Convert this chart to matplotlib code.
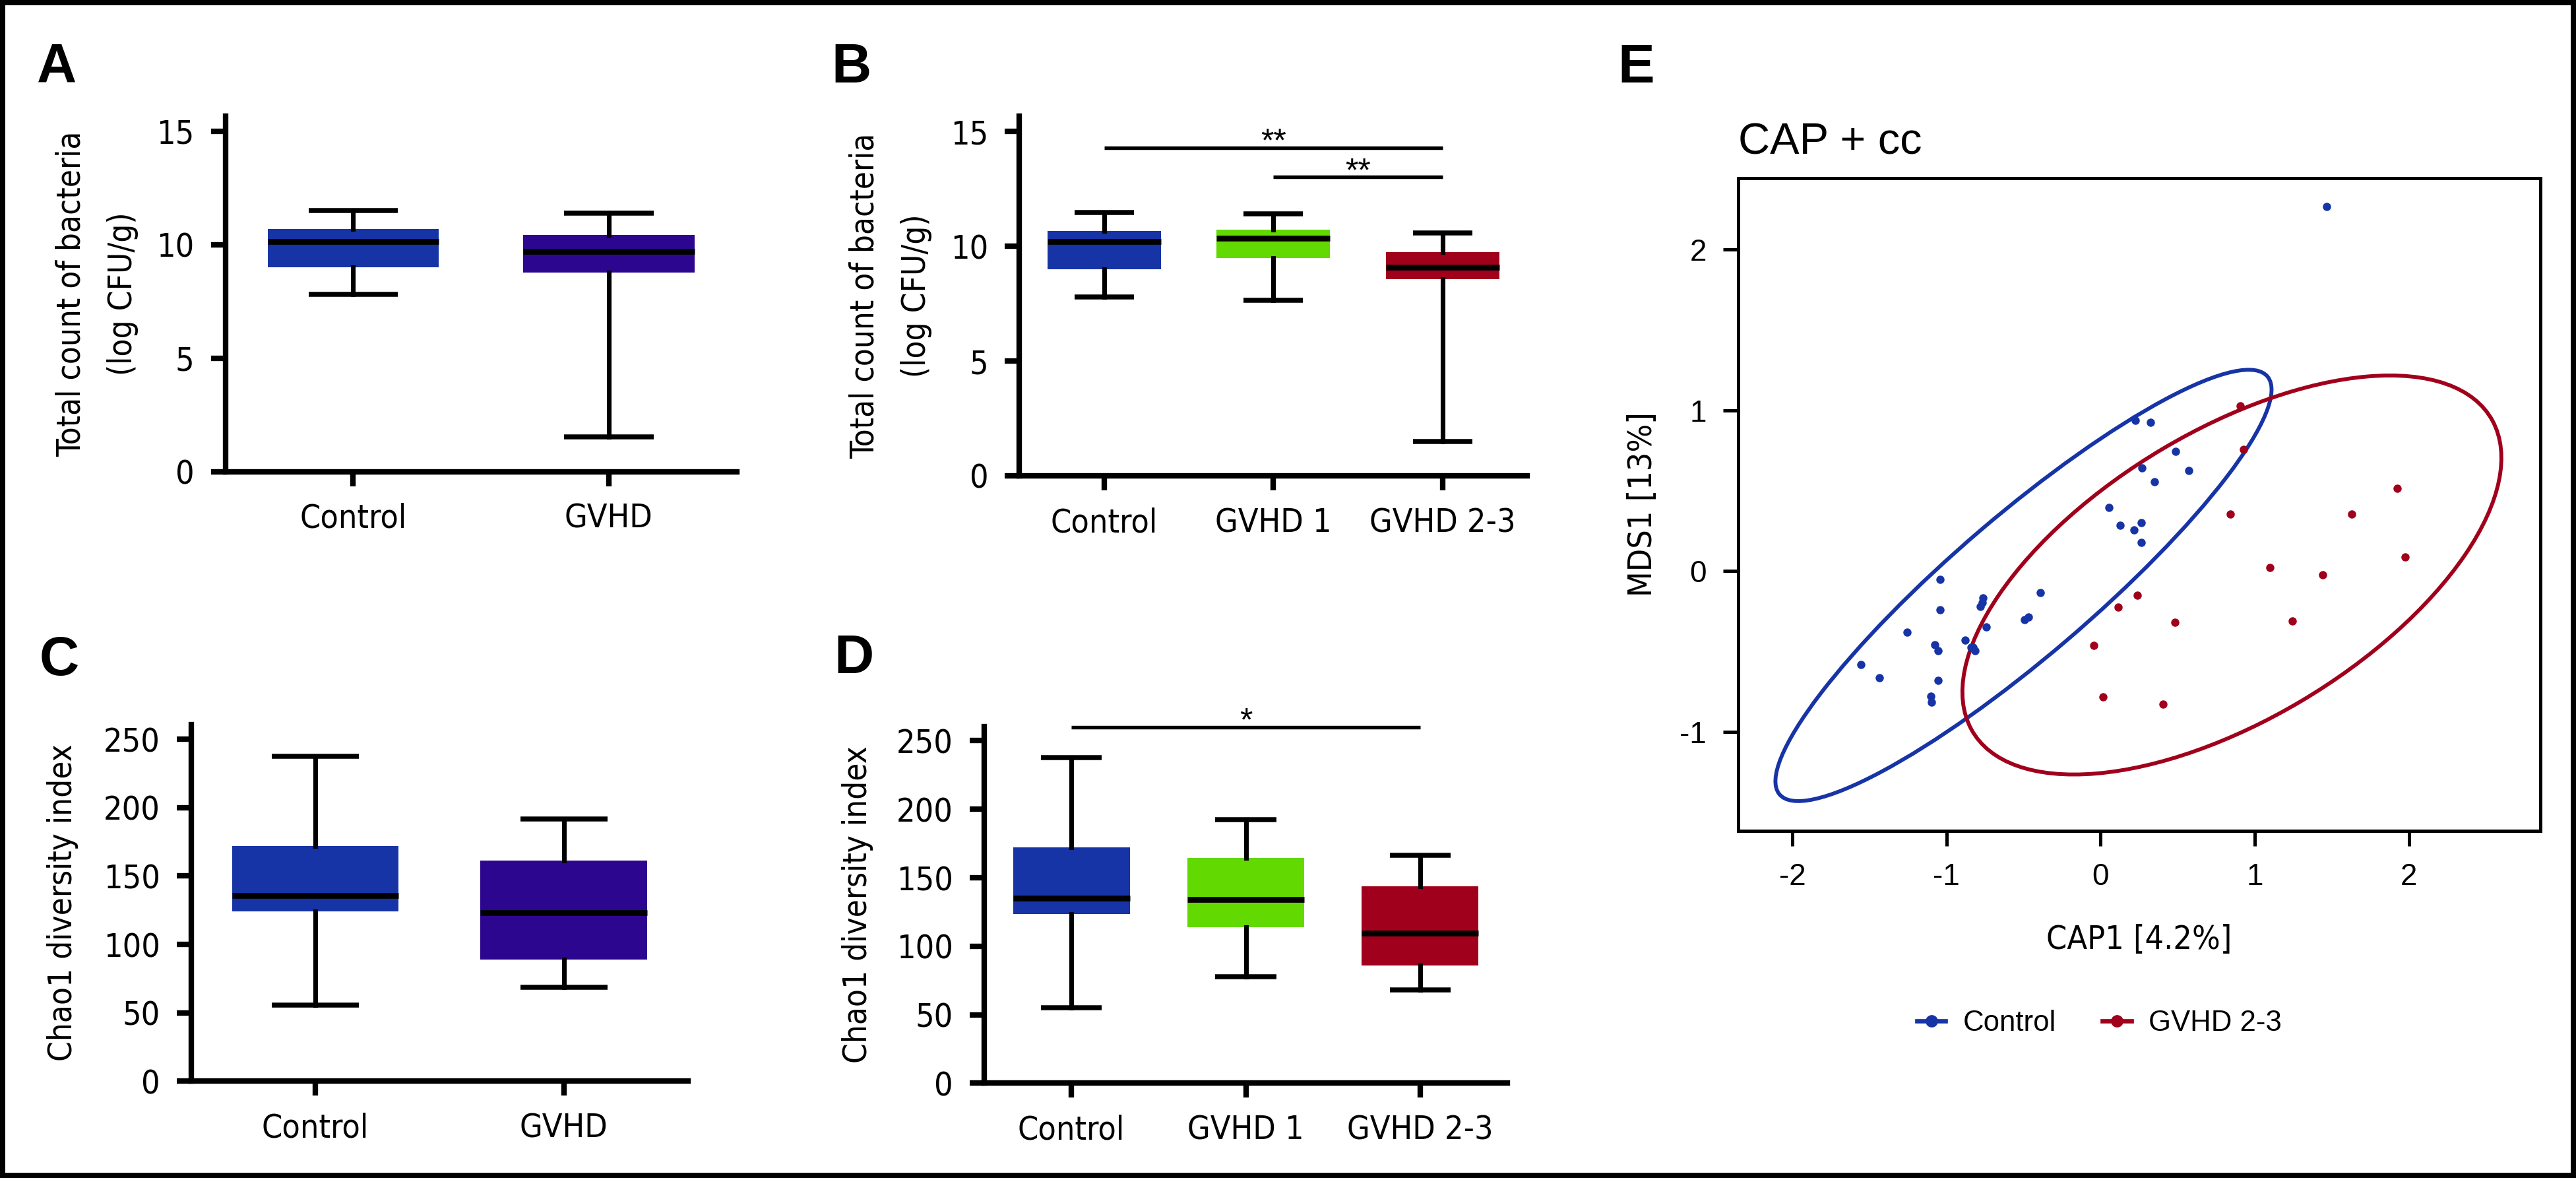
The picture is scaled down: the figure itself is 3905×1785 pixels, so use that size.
import numpy as np
import matplotlib.pyplot as plt
from matplotlib import font_manager
from matplotlib.patches import Ellipse, Rectangle
from matplotlib.lines import Line2D

# the figure uses a condensed face for most text; take DejaVu Sans Condensed if present
has_cond = any(f.name == 'DejaVu Sans' and f.stretch == 'condensed'
               for f in font_manager.fontManager.ttflist)
if has_cond:
    plt.rcParams['font.family'] = ['DejaVu Sans']
    plt.rcParams['font.stretch'] = 'condensed'
else:
    plt.rcParams['font.family'] = ['Liberation Sans', 'DejaVu Sans']
plt.rcParams['axes.unicode_minus'] = False
plain = 'Liberation Sans'

# colours of the groups
blue = '#1734a6'
purple = '#2d0690'
green = '#62d900'
red = '#a0001b'

# categories
groups_2 = ['Control', 'GVHD']
groups_3 = ['Control', 'GVHD 1', 'GVHD 2-3']

# box stats per group: [whisker low, q1, median, q3, whisker high]
count_a = [[7.82, 9.01, 10.14, 10.68, 11.50],
           [1.52, 8.76, 9.70, 10.43, 11.39]]
count_b = [[7.79, 9.00, 10.19, 10.67, 11.48],
           [7.66, 9.50, 10.34, 10.73, 11.40],
           [1.49, 8.56, 9.07, 9.75, 10.57]]
chao_c = [[55.5, 124.0, 135.5, 172.0, 237.3],
          [68.5, 88.9, 123.4, 161.1, 191.6]]
chao_d = [[55.2, 123.3, 135.3, 172.1, 237.6],
          [77.9, 114.1, 133.9, 164.7, 192.2],
          [68.0, 85.7, 109.3, 143.8, 166.3]]

# significance brackets: (from, to, height, label)
sig_b = [(0, 2, 14.30, '**'), (1, 2, 13.01, '**')]
sig_d = [(0, 2, 260.1, '*')]

# CAP scores (CAP1, MDS1)
ctrl_x = [1.465, 0.224, 0.325, 0.267, 0.487, 0.573, 0.348, 0.053, 0.129, 0.215, 0.263,
          0.263, -0.391, -0.468, -0.492, -0.740, -0.764, -0.768, -0.778, -1.041, -1.041,
          -1.255, -1.556, -1.437, -1.074, -1.055, -0.878, -0.840, -0.816, -0.826, -1.055,
          -1.103, -1.098]
ctrl_y = [2.266, 0.935, 0.925, 0.640, 0.743, 0.626, 0.556, 0.393, 0.285, 0.257, 0.299,
          0.178, -0.136, -0.285, -0.304, -0.350, -0.168, -0.196, -0.220, -0.051, -0.243,
          -0.379, -0.584, -0.664, -0.458, -0.495, -0.430, -0.477, -0.495, -0.477, -0.682,
          -0.780, -0.818]
gvhd_x = [0.907, 0.926, 1.924, 1.628, 0.840, 1.976, 1.098, 1.442, 1.246, 0.239, 0.115,
          0.482, -0.043, 0.014, 0.406]
gvhd_y = [1.028, 0.757, 0.514, 0.355, 0.355, 0.089, 0.023, -0.023, -0.313, -0.150, -0.224,
          -0.318, -0.463, -0.785, -0.827]

# 95% ellipses: centre, semi axes, angle (deg)
ell_ctrl = [(-0.50, -0.09), 2.048, 0.442, 39.3]
ell_gvhd = [(0.852, -0.025), 1.944, 0.904, 29.6]

W, H = 3905, 1785
fig = plt.figure(figsize=(W / 300, H / 300), dpi=300)


def box_panel(rect, stats, names, colors, ymax, yticks, ylabel, lab_x):
    ax = fig.add_axes(rect)
    bx = [dict(whislo=s[0], q1=s[1], med=s[2], q3=s[3], whishi=s[4], fliers=[]) for s in stats]
    art = ax.bxp(bx, positions=range(len(names)), widths=0.67, capwidths=0.35,
                 patch_artist=True, showfliers=False, manage_ticks=False,
                 boxprops=dict(linewidth=0),
                 medianprops=dict(color='black', linewidth=2.1, solid_capstyle='butt'),
                 whiskerprops=dict(color='black', linewidth=1.7),
                 capprops=dict(color='black', linewidth=1.8, solid_capstyle='butt'))
    for patch, c in zip(art['boxes'], colors):
        patch.set_facecolor(c)
        patch.set_edgecolor(c)
    ax.set_xlim(-0.5, len(names) - 0.5)
    ax.set_ylim(0, ymax)
    ax.spines[['top', 'right']].set_visible(False)
    ax.spines[['left', 'bottom']].set_linewidth(2.0)
    ax.set_yticks(yticks)
    ax.set_xticks(range(len(names)), names)
    ax.tick_params(direction='out', length=5.3, width=2.0, labelsize=12, pad=6)
    ax.tick_params(axis='x', labelsize=12)
    ax.set_ylabel(ylabel, fontsize=11.8, linespacing=1.8)
    ax.yaxis.set_label_coords(lab_x, 0.5)
    return ax


def brackets(ax, sigs):
    for x0, x1, y, lab in sigs:
        ax.plot([x0, x1], [y, y], color='black', lw=1.3, clip_on=False,
                solid_capstyle='butt')
        ax.annotate(lab, ((x0 + x1) / 2, y), xytext=(0, -1.5), textcoords='offset points',
                    ha='center', va='baseline', fontsize=12, family=plain)


ylab_count = 'Total count of bacteria\n(log CFU/g)'
ylab_chao = 'Chao1 diversity index'

ax_a = box_panel([341.6 / W, 1 - 714.5 / H, 775 / W, 538.3 / H], count_a, groups_2,
                 [blue, purple], 15.66, [0, 5, 10, 15], ylab_count, -0.17)
ax_b = box_panel([1545.3 / W, 1 - 721 / H, 770 / W, 544.8 / H], count_b, groups_3,
                 [blue, green, red], 15.66, [0, 5, 10, 15], ylab_count, -0.172)
brackets(ax_b, sig_b)
ax_c = box_panel([289.7 / W, 1 - 1638.3 / H, 753.3 / W, 540.8 / H], chao_c, groups_2,
                 [blue, purple], 260.9, [0, 50, 100, 150, 200, 250], ylab_chao, -0.227)
ax_d = box_panel([1492 / W, 1 - 1641.3 / H, 793 / W, 540.8 / H], chao_d, groups_3,
                 [blue, green, red], 260.6, [0, 50, 100, 150, 200, 250], ylab_chao, -0.212)
brackets(ax_d, sig_d)

# panel E: CAP ordination
ax_e = fig.add_axes([2634.7 / W, 1 - 1259.1 / H, 1216.7 / W, 989.3 / H])
ax_e.scatter(ctrl_x, ctrl_y, s=9, color=blue, linewidths=0, zorder=3)
ax_e.scatter(gvhd_x, gvhd_y, s=9, color=red, linewidths=0, zorder=3)
for (c, a, b, ang), col in [(ell_ctrl, blue), (ell_gvhd, red)]:
    ax_e.add_patch(Ellipse(c, 2 * a, 2 * b, angle=ang, fill=False, edgecolor=col, lw=1.4))
ax_e.set_xlim(-2.352, 2.855)
ax_e.set_ylim(-1.617, 2.444)
ax_e.set_xticks([-2, -1, 0, 1, 2])
ax_e.set_yticks([-1, 0, 1, 2])
for sp in ax_e.spines.values():
    sp.set_linewidth(1.2)
ax_e.tick_params(direction='out', length=5.5, width=1.2, labelsize=11, pad=6)
for t in ax_e.get_xticklabels() + ax_e.get_yticklabels():
    t.set_family(plain)
ax_e.set_xlabel('CAP1 [4.2%]', fontsize=12)
ax_e.set_ylabel('MDS1 [13%]', fontsize=12)
ax_e.xaxis.set_label_coords(0.5, -0.142)
ax_e.yaxis.set_label_coords(-0.099, 0.5)
ax_e.set_title('CAP + cc', loc='left', fontsize=16, family=plain, pad=8.7)
handles = [Line2D([], [], color=blue, marker='o', markersize=3.5, lw=1.6),
           Line2D([], [], color=red, marker='o', markersize=3.5, lw=1.6)]
ax_e.legend(handles, ['Control', 'GVHD 2-3'], loc='center', bbox_to_anchor=(0.45, -0.295),
            ncol=2, frameon=False, handlelength=1.0, handletextpad=0.6, columnspacing=1.6,
            prop=dict(family=plain, size=10.5))

# panel letters
for lab, x, y in [('A', 56, 125), ('B', 1260, 125), ('C', 60, 1023), ('D', 1264, 1020),
                  ('E', 2452, 125)]:
    fig.text(x / W, 1 - y / H, lab, fontsize=20, fontweight='bold', family=plain,
             ha='left', va='baseline')

# frame round the figure
fig.add_artist(Rectangle((0, 0), 1, 1, transform=fig.transFigure, fill=False,
                         edgecolor='black', lw=3.8))

fig.savefig('out.png', dpi=300)
